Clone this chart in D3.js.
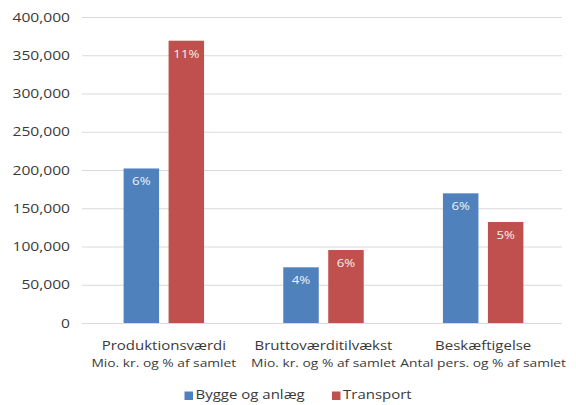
<!DOCTYPE html>
<html>
<head>
<meta charset="utf-8">
<script src="https://cdn.jsdelivr.net/npm/d3@7"></script>
<style>
  html, body { margin: 0; padding: 0; background: #ffffff; }
  svg { display: block; }
  text { font-family: "Open Sans", "Liberation Sans", sans-serif; }
</style>
</head>
<body>
<svg id="chart" width="576" height="405"></svg>
<script>
const categories = ["Produktionsværdi", "Bruttoværditilvækst", "Beskæftigelse"];
const subtitles = ["Mio. kr. og % af samlet", "Mio. kr. og % af samlet", "Antal pers. og % af samlet"];
const series = ["Bygge og anlæg", "Transport"];
const byggeValues = [202000, 72800, 169500];
const transportValues = [369000, 95400, 132000];
const byggeLabels = ["6%", "4%", "6%"];
const transportLabels = ["11%", "6%", "5%"];
const yTicks = [0, 50000, 100000, 150000, 200000, 250000, 300000, 350000, 400000];
const colors = ["#4F81BD", "#C0504D"];

const SX = 1.2; // horizontal text stretch of the reference
const svg = d3.select("#chart");

const y = d3.scaleLinear().domain([0, 400000]).range([323, 17]);
const x0 = d3.scaleBand().domain(categories).range([84, 563]).paddingInner(0.496).paddingOuter(0.248);
const x1 = d3.scaleBand().domain(series).range([0, x0.bandwidth()]).paddingInner(0.211);

// y axis with gridlines
const yAxis = d3.axisLeft(y)
  .tickValues(yTicks)
  .tickSize(-480)
  .tickPadding(12)
  .tickFormat(d3.format(","));
const gy = svg.append("g").attr("transform", "translate(82,0)").call(yAxis);
gy.select(".domain").remove();
gy.selectAll(".tick line").attr("stroke", "#d9d9d9").attr("stroke-width", 1);
gy.selectAll(".tick text")
  .attr("fill", "#3a3a3a")
  .style("font-size", "13px")
  .attr("x", -12 / SX)
  .attr("transform", `scale(${SX},1)`);

const rows = categories.map((c, i) => ({
  cat: c,
  vals: [
    { s: series[0], v: byggeValues[i], lab: byggeLabels[i], col: colors[0] },
    { s: series[1], v: transportValues[i], lab: transportLabels[i], col: colors[1] }
  ]
}));

const groups = svg.append("g").selectAll("g").data(rows).join("g")
  .attr("transform", d => `translate(${x0(d.cat)},0)`);

groups.selectAll("rect").data(d => d.vals).join("rect")
  .attr("x", d => x1(d.s))
  .attr("y", d => y(d.v))
  .attr("width", x1.bandwidth())
  .attr("height", d => y(0) - y(d.v))
  .attr("fill", d => d.col);

groups.selectAll("g.lab").data(d => d.vals).join("g")
  .attr("class", "lab")
  .attr("transform", d => `translate(${x1(d.s) + x1.bandwidth() / 2},${y(d.v) + 17}) scale(${SX},1)`)
  .append("text")
  .attr("text-anchor", "middle")
  .attr("fill", "#f2f2f2")
  .style("font-size", "11px")
  .text(d => d.lab);

// category labels
const xl = svg.append("g").selectAll("g").data(categories).join("g")
  .attr("transform", d => `translate(${x0(d) + x0.bandwidth() / 2},0) scale(${SX},1)`);
xl.append("text")
  .attr("y", 350.3)
  .attr("text-anchor", "middle")
  .attr("fill", "#3a3a3a")
  .style("font-size", "12.5px")
  .text(d => d);
xl.append("text")
  .attr("y", 366.5)
  .attr("text-anchor", "middle")
  .attr("fill", "#3a3a3a")
  .style("font-size", "11.5px")
  .text((d, i) => subtitles[i]);

// legend
const legendX = [184.5, 332];
const lg = svg.append("g").selectAll("g").data(series).join("g")
  .attr("transform", (d, i) => `translate(${legendX[i]},0)`);
lg.append("rect").attr("x", 0).attr("y", 391.5).attr("width", 8.5).attr("height", 8.5)
  .attr("fill", (d, i) => colors[i]);
lg.append("g").attr("transform", `translate(11,399) scale(${SX},1)`)
  .append("text")
  .attr("fill", "#3a3a3a")
  .style("font-size", "12.5px")
  .text(d => d);
</script>
</body>
</html>
